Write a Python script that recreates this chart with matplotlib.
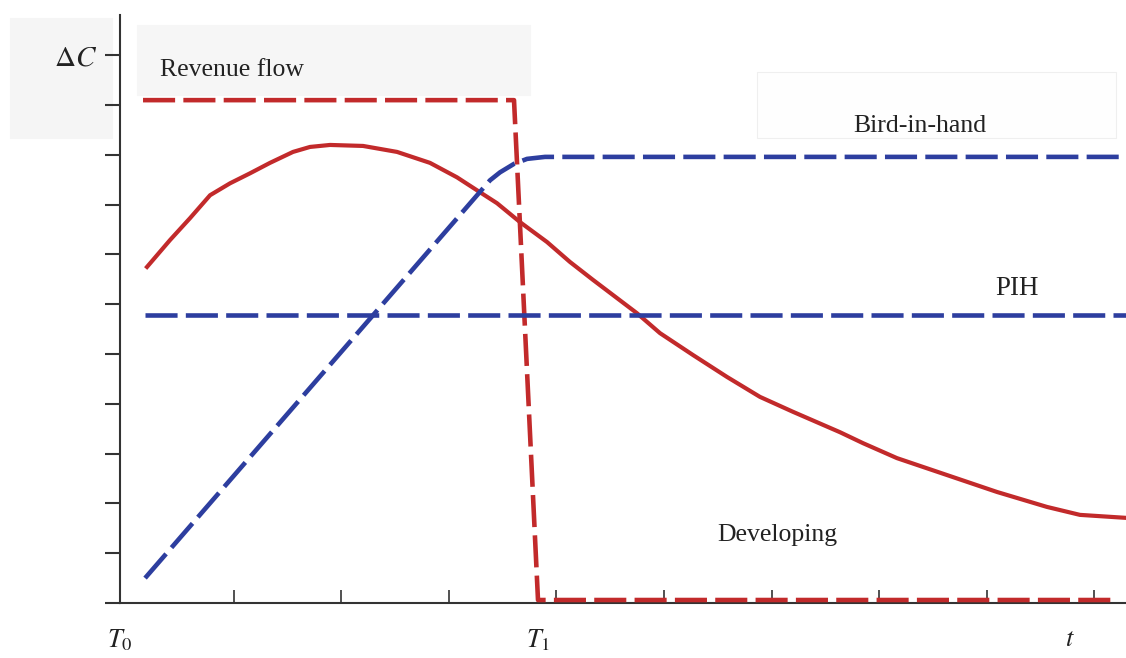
import matplotlib
matplotlib.use("Agg")
import matplotlib.pyplot as plt
from matplotlib.patches import Rectangle

plt.rcParams['font.family'] = ['Liberation Serif', 'DejaVu Serif']
plt.rcParams['mathtext.fontset'] = 'stix'

RED = '#c22a2b'
BLUE = '#2d3e9f'
INK = '#222222'

# consumption response paths (time in tick units, dC in tick units)
rev_t = [0.158, 3.606, 3.829, 9.20]
rev_c = [10.10, 10.10, 0.06, 0.06]

dev_t = [0.195, 0.409, 0.595, 0.781, 0.967, 1.152, 1.338, 1.552, 1.710, 1.896,
         2.203, 2.519, 2.825, 3.076, 3.290, 3.448, 3.662, 3.913, 4.126, 4.340,
         4.749, 4.963, 5.270, 5.586, 5.892, 6.199, 6.636, 6.850, 7.165, 7.630,
         8.095, 8.559, 8.866, 9.294]
dev_c = [6.75, 7.29, 7.73, 8.19, 8.43, 8.63, 8.84, 9.06, 9.16, 9.20,
         9.18, 9.06, 8.84, 8.55, 8.25, 8.03, 7.65, 7.25, 6.85, 6.49,
         5.82, 5.42, 4.98, 4.54, 4.14, 3.84, 3.43, 3.21, 2.91, 2.57,
         2.23, 1.93, 1.77, 1.71]

bih_t = [0.177, 3.383, 3.476, 3.606, 3.727, 3.894, 9.294]
bih_c = [0.50, 8.49, 8.65, 8.82, 8.92, 8.96, 8.96]

pih_t = [0.177, 9.294]
pih_c = [5.78, 5.78]

fig = plt.figure(figsize=(11.26, 6.58), dpi=100)
ax = fig.add_axes([120 / 1126, 55 / 658, 1006 / 1126, 588 / 658])
ax.set_xlim(-0.056, 9.294)
ax.set_ylim(0, 11.81)

# shaded label panels
for x0, y0, x1, y1, fc, ec in [(10, 18, 112, 138, '#f5f5f5', '#f5f5f5'),
                               (137, 25, 530, 95, '#f6f6f6', '#f6f6f6'),
                               (757, 72, 1116, 138, '#fefefe', '#efefef')]:
    ax.add_patch(Rectangle((x0 / 1126, 1 - y1 / 658), (x1 - x0) / 1126, (y1 - y0) / 658,
                           transform=fig.transFigure, facecolor=fc, edgecolor=ec,
                           lw=0.8, clip_on=False, zorder=0))

dash = (7, 1.8)
ax.plot(rev_t, rev_c, color=RED, lw=3.3, dashes=dash, zorder=3, clip_on=False)
ax.plot(dev_t, dev_c, color=RED, lw=3.0, zorder=3, clip_on=False)
ax.plot(bih_t, bih_c, color=BLUE, lw=3.3, dashes=dash, zorder=3, clip_on=False)
ax.plot(pih_t, pih_c, color=BLUE, lw=3.3, dashes=dash, zorder=3, clip_on=False)

for s in ['top', 'right']:
    ax.spines[s].set_visible(False)
for s in ['left', 'bottom']:
    ax.spines[s].set_color('#333333')
    ax.spines[s].set_linewidth(1.5)

ax.set_yticks(range(12))
ax.set_yticklabels([''] * 11 + [r'$\Delta C$'], fontsize=21, color=INK)
ax.tick_params(axis='y', direction='out', length=10.8, width=1.5, color='#333333', pad=5.5)
ax.set_xticks(range(1, 10))
ax.set_xticklabels([])
ax.tick_params(axis='x', direction='in', length=9.4, width=1.2, color='#333333')

# time markers under the axis
for xt, lab in [(-0.056, r'$T_0$'), (3.829, r'$T_1$'), (8.773, r'$t$')]:
    ax.text(xt, -0.75, lab, ha='center', va='center', fontsize=19, color=INK)

ax.text(0.985, 10.71, 'Revenue flow', ha='center', va='center', fontsize=18.5, color=INK)
ax.text(7.379, 9.59, 'Bird-in-hand', ha='center', va='center', fontsize=18.5, color=INK)
ax.text(8.281, 6.31, 'PIH', ha='center', va='center', fontsize=19.5, color=INK)
ax.text(6.05, 1.37, 'Developing', ha='center', va='center', fontsize=18.5, color=INK)

fig.savefig('out.png', dpi=100)
